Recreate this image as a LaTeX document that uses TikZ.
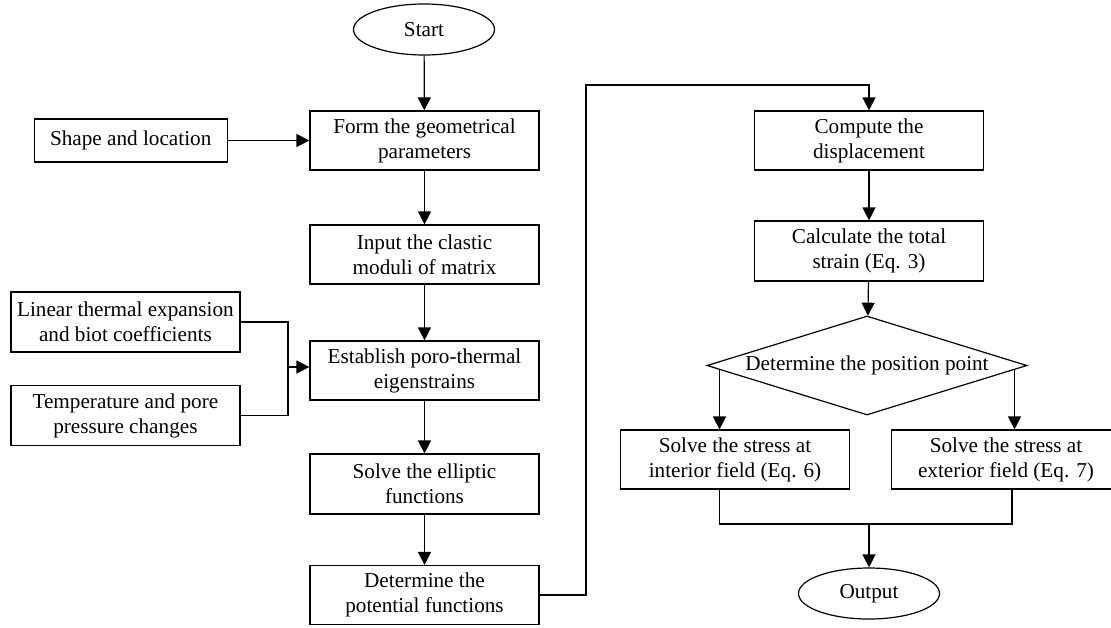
\documentclass[tikz,border=0pt]{standalone}
\usepackage{fontspec}
\setmainfont{Liberation Serif}
\usetikzlibrary{arrows.meta, shapes.geometric, calc}
\tikzset{
  >={Triangle[length=6.5pt,width=6.5pt]},
  % Blocchi del diagramma
  box/.style={draw,line width=0.6pt,align=center,inner sep=2pt,minimum width=114.5pt,minimum height=29.5pt},
  small box/.style={box,minimum width=96.5pt,minimum height=21.5pt},
  term/.style={draw,ellipse,line width=0.6pt,inner sep=1pt,minimum width=70.5pt,minimum height=25.5pt},
  decide/.style={draw,diamond,aspect=3.23,line width=0.6pt,inner sep=0pt,minimum width=160pt,minimum height=49.5pt},
  % Connessioni
  flow/.style={line width=0.6pt},
  flow arrow/.style={->,line width=0.6pt}
}

\begin{document}
\begin{tikzpicture}[x=0.5pt,y=-0.5pt,every node/.style={font=\fontsize{10.6}{12.5}\selectfont}]
        \useasboundingbox (0,0) rectangle (1111,627);
        \node[term] (start) at (424,29.5) {Start};
        \node[box] (geom) at (424.5,140.5) {Form the geometrical\\parameters};
        \node[small box] (shape) at (130.7,140.5) {Shape and location};
        \node[box] (moduli) at (424.5,254.5) {Input the clastic\\moduli of matrix};
        \node[box,minimum height=30pt] (expan) at (125.4,322) {Linear thermal expansion\\and biot coefficients};
        \node[box] (eigen) at (424.5,370.5) {Establish poro-thermal\\eigenstrains};
        \node[box,minimum height=30pt] (temp) at (125.4,415.5) {Temperature and pore\\pressure changes};
        \node[box,minimum height=30pt] (ellip) at (424.5,484) {Solve the elliptic\\functions};
        \node[box] (poten) at (424.5,595) {Determine the\\potential functions};
        \node[box] (displ) at (869,140.5) {Compute the\\displacement};
        \node[box,minimum height=30pt] (strain) at (869,251) {Calculate the total\\strain (Eq. 3)};
        \node[decide] (posit) at (867,365.5) {Determine the position point};
        \node[box] (inter) at (735,459.5) {Solve the stress at\\interior field (Eq. 6)};
        \node[box] (exter) at (1006,459.5) {Solve the stress at\\exterior field (Eq. 7)};
        \node[term] (output) at (869,593.5) {Output};
        \coordinate (join) at (288,367);
        \coordinate (bend) at (586,85);
        \coordinate (lbr) at (719.5,369);
        \coordinate (rbr) at (1014.5,369);
        \coordinate (mrg) at (869,524);
        \draw[flow arrow] (start)--(geom); \draw[flow arrow] (geom)--(moduli);
        \draw[flow arrow] (moduli)--(eigen); \draw[flow arrow] (eigen)--(ellip);
        \draw[flow arrow] (ellip)--(poten); \draw[flow arrow] (shape)--(geom);
        \draw[flow] (expan.east) -| (join); \draw[flow] (temp.east) -| (join);
        \draw[flow arrow] (join) -- (join -| eigen.west);
        \draw[flow arrow] (poten.east) -| (bend) -| (displ.north);
        \draw[flow arrow] (displ)--(strain); \draw[flow arrow] (strain)--(posit);
        \draw[flow arrow] (lbr) -- (lbr |- inter.north);
        \draw[flow arrow] (rbr) -- (rbr |- exter.north);
        \draw[flow] (lbr |- inter.south) |- (mrg) -| ($(rbr |- exter.south)+(-2.5,0)$);
        \draw[flow arrow] (mrg) -- (output);
      \end{tikzpicture}
\end{document}
